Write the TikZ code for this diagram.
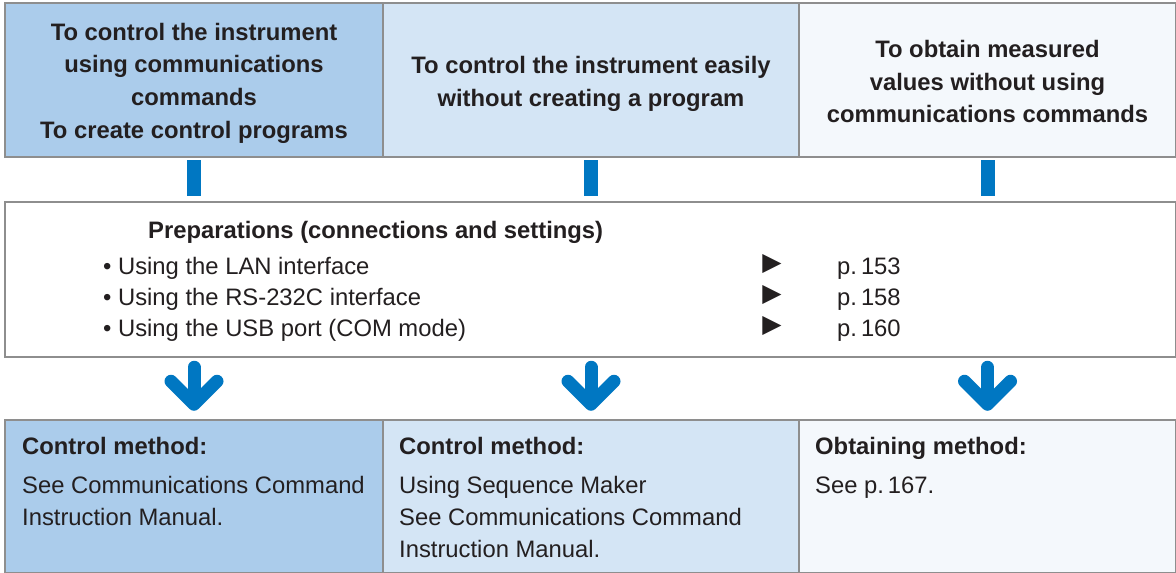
\documentclass[tikz,border=0pt]{standalone}
\usepackage{fontspec}
\setmainfont{Liberation Sans}
\newfontfamily\symfont{DejaVu Sans}
\usepackage{xcolor}
\usetikzlibrary{arrows.meta, positioning, calc}

\definecolor{boxblue}{HTML}{ABCCEB}
\definecolor{boxpale}{HTML}{D4E5F5}
\definecolor{boxwhite}{HTML}{F4F8FC}
\definecolor{rulegray}{HTML}{8E8E8E}
\definecolor{flowblue}{HTML}{0077C2}
\definecolor{inkdark}{HTML}{231F20}

\tikzset{
  panel/.style={draw=rulegray, line width=2.5pt, inner sep=0pt},
  goal/.style={panel, minimum height=154pt},
  goaltext/.style={inner sep=0pt, align=center, text=inkdark,
    font=\fontsize{23.8}{32.7}\selectfont\bfseries},
  method/.style={panel, minimum height=153pt},
  txt/.style={inner sep=0pt, text=inkdark, font=\fontsize{23.8}{32}\selectfont},
  note/.style={txt, align=left, anchor=north west},
  pointer/.style={inner sep=0pt, text=inkdark, font=\symfont\fontsize{25}{25}\selectfont},
  bar/.style={draw=flowblue, line width=14pt, shorten <=2pt, shorten >=5pt},
  flow/.style={draw=flowblue, line width=13pt, line cap=round, line join=round,
    shorten <=9pt, shorten >=8pt, -{Straight Barb[length=23pt, width=46pt, round]}}
}

\begin{document}
\begin{tikzpicture}[x=1pt, y=-1pt]
  \clip (0,0) rectangle (1176,573);
  \fill[white] (0,0) rectangle (1176,573);

  % goals
  \node[goal, fill=boxblue, minimum width=378pt] (goalA) at (194,80) {};
  \node[goal, fill=boxpale, minimum width=416pt] (goalB) at (591,80) {};
  \node[goal, fill=boxwhite, minimum width=377pt] (goalC) at (987.5,80) {};
  \node[goaltext] (goalAtext) at ($(goalA.center)+(0,3)$)
    {To control the instrument\\using communications\\commands\\To create control programs};
  \node[goaltext] (goalBtext) at ($(goalB.center)+(0,4)$)
    {To control the instrument easily\\without creating a program};
  \node[goaltext] (goalCtext) at ($(goalC.center)+(0,1.5)$)
    {To obtain measured\\values without using\\communications commands};

  % preparations
  \node[panel, fill=white, minimum width=1171pt, minimum height=155pt] (prep) at (590.5,279.5) {};
  \node[txt, anchor=base west, font=\fontsize{23.8}{32}\selectfont\bfseries] (prepTitle) at (148,238.5)
    {Preparations (connections and settings)};
  \foreach \item/\page [count=\i] in {{Using the LAN interface}/153,
      {Using the RS-232C interface}/158, {Using the USB port (COM mode)}/160} {
    \node[txt, anchor=base west] (item\i) at (103,243.5+31*\i) {\textbullet\ \item};
    \node[pointer] (tri\i) at (772,233+31*\i) {▶};
    \node[txt, anchor=base west] (page\i) at (837,243.5+31*\i) {p.\,\page};
  }

  % methods
  \node[method, fill=boxblue, minimum width=378pt] (methodA) at (194,496.5) {};
  \node[method, fill=boxpale, minimum width=416pt] (methodB) at (591,496.5) {};
  \node[method, fill=boxwhite, minimum width=377pt] (methodC) at (987.5,496.5) {};

  \node[note] (noteA) at (22,436.8)
    {\textbf{Control method:}\\[7pt]See Communications Command\\Instruction Manual.};
  \node[note] (noteB) at (399,436.8)
    {\textbf{Control method:}\\[7pt]Using Sequence Maker\\See Communications Command\\Instruction Manual.};
  \node[note] (noteC) at (815,436.8)
    {\textbf{Obtaining method:}\\[7pt]See p.\,167.};

  % connectors
  \draw[bar] (goalA.south) -- (goalA.south |- prep.north);
  \draw[bar] (goalB.south) -- (goalB.south |- prep.north);
  \draw[bar] (goalC.south) -- (goalC.south |- prep.north);

  \draw[flow] (prep.south -| methodA.north) -- (methodA.north);
  \draw[flow] (prep.south -| methodB.north) -- (methodB.north);
  \draw[flow] (prep.south -| methodC.north) -- (methodC.north);
\end{tikzpicture}
\end{document}
